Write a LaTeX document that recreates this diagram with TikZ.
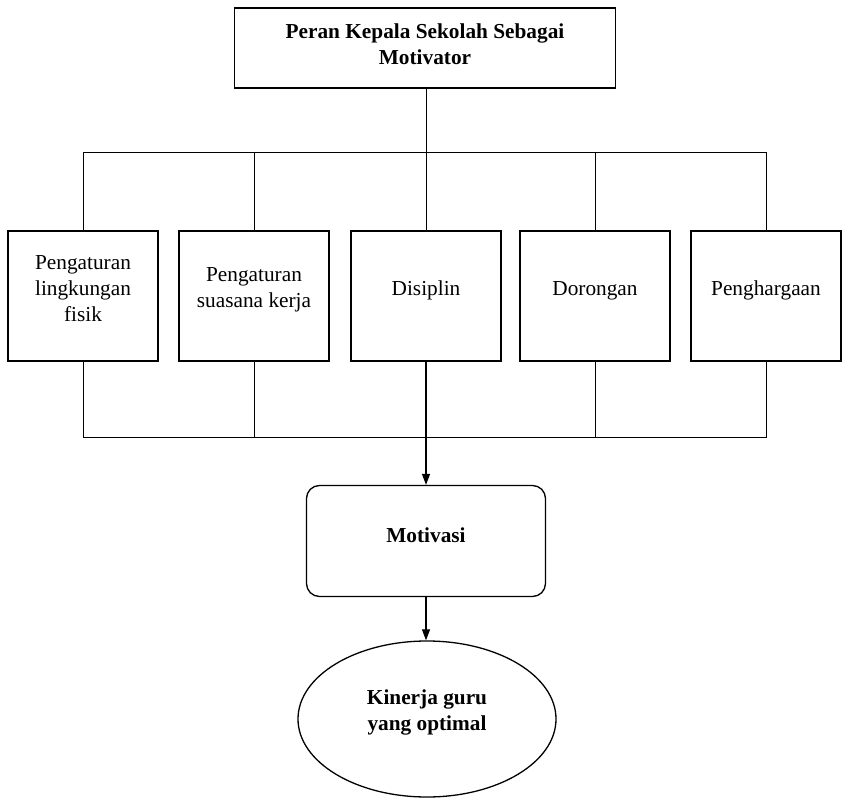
\documentclass[tikz,border=0pt]{standalone}
\usepackage{fontspec}
\setmainfont{Liberation Serif}
\usetikzlibrary{arrows.meta,shapes.geometric}
\begin{document}
\begin{tikzpicture}[x=1pt,y=-1pt,
  every node/.style={font=\fontsize{21.3}{26}\selectfont},
  boxline/.style={draw,line width=1.3pt,inner sep=0pt},
  catbox/.style={boxline,rectangle,minimum width=150pt,minimum height=130pt},
  lbl/.style={align=center,inner sep=0pt},
  conn/.style={line width=1pt},
  arr/.style={line width=1.2pt,-{Triangle[length=11pt,width=8pt]}}]
\useasboundingbox (0,0) rectangle (843,799);
\fill[white] (0,0) rectangle (843,799);
% top box
\node[boxline,minimum width=381pt,minimum height=80pt] (top) at (425,48) {};
\node[lbl,font=\fontsize{21.3}{26}\selectfont\bfseries] (toptxt) at (425,44) {Peran Kepala Sekolah Sebagai\\Motivator};
% category boxes
\node[catbox] (b1) at (83,296) {};
\node[catbox] (b2) at (254,296) {};
\node[catbox] (b3) at (426,296) {};
\node[catbox] (b4) at (595,296) {};
\node[catbox] (b5) at (766,296) {};
\node[lbl] (t1) at (83,289) {Pengaturan\\lingkungan\\fisik};
\node[lbl] (t2) at (254,290) {Pengaturan\\suasana kerja};
\node[lbl,anchor=base] (t3) at (426,296) {Disiplin};
\node[lbl,anchor=base] (t4) at (595,296) {Dorongan};
\node[lbl,anchor=base] (t5) at (766,296) {Penghargaan};
% motivasi
\node[boxline,rounded corners=13pt,minimum width=239pt,minimum height=111pt] (mot) at (426,541) {};
\node[lbl,font=\fontsize{21.3}{26}\selectfont\bfseries] (mottxt) at (426,535) {Motivasi};
% ellipse
\node[boxline,ellipse,minimum width=258pt,minimum height=156pt] (kin) at (427,719) {};
\node[lbl,font=\fontsize{21.3}{26}\selectfont\bfseries] (kintxt) at (427,712) {Kinerja guru\\yang optimal};
% connectors
\coordinate (busT) at (426,153);
\coordinate (busB) at (426,437);
\draw[conn] (top.south -| busT) -- (busT);
\draw[conn] (b1.north) |- (b5.north |- busT) -- (b5.north);
\draw[conn] (b2.north) -- (b2.north |- busT);
\draw[conn] (b3.north) -- (busT);
\draw[conn] (b4.north) -- (b4.north |- busT);
\draw[conn] (b1.south) |- (b5.south |- busB) -- (b5.south);
\draw[conn] (b2.south) -- (b2.south |- busB);
\draw[conn] (b4.south) -- (b4.south |- busB);
\draw[arr] (b3.south) -- (mot.north);
\draw[arr] (mot.south) -- (mot.south |- kin.north);
\end{tikzpicture}
\end{document}
